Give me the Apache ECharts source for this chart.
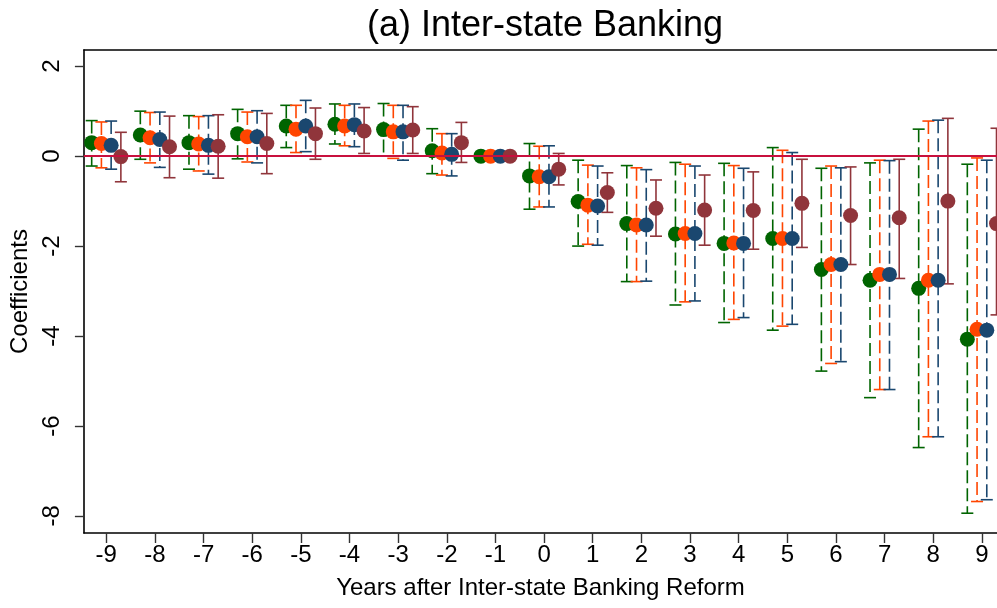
<!DOCTYPE html>
<html>
<head>
<meta charset="utf-8">
<script src="https://cdn.jsdelivr.net/npm/echarts@6/dist/echarts.min.js"></script>
<style>
  html, body { margin: 0; padding: 0; background: #fff; }
  #chart { width: 997px; height: 608px; }
</style>
</head>
<body>
<div id="chart"></div>
<script>
const years = [-9, -8, -7, -6, -5, -4, -3, -2, -1, 0, 1, 2, 3, 4, 5, 6, 7, 8, 9];
const yTicks = [-8, -6, -4, -2, 0, 2];

// point estimates and 95% bounds (null = reference year, no interval)
const greenCoef = [0.30, 0.47, 0.30, 0.50, 0.67, 0.71, 0.59, 0.12, 0, -0.44, -1.01, -1.50, -1.73, -1.94, -1.83, -2.52, -2.76, -2.94, -4.07];
const greenHi = [0.79, 1.00, 0.90, 1.04, 1.13, 1.16, 1.17, 0.61, null, 0.28, -0.09, -0.21, -0.14, -0.16, 0.19, -0.27, -0.15, 0.60, -0.18];
const greenLo = [-0.22, -0.07, -0.29, -0.06, 0.19, 0.27, 0.00, -0.39, null, -1.18, -2.00, -2.79, -3.31, -3.70, -3.87, -4.78, -5.37, -6.48, -7.94];

const orangeCoef = [0.28, 0.41, 0.27, 0.43, 0.60, 0.67, 0.54, 0.07, 0, -0.46, -1.09, -1.53, -1.72, -1.93, -1.83, -2.41, -2.63, -2.76, -3.85];
const orangeHi = [0.76, 0.97, 0.88, 0.98, 1.13, 1.13, 1.13, 0.50, null, 0.22, -0.20, -0.26, -0.18, -0.21, 0.13, -0.22, -0.09, 0.78, -0.04];
const orangeLo = [-0.26, -0.15, -0.33, -0.13, 0.08, 0.23, -0.05, -0.42, null, -1.13, -1.96, -2.79, -3.24, -3.63, -3.78, -4.61, -5.19, -6.24, -7.68];

const blueCoef = [0.24, 0.37, 0.24, 0.43, 0.67, 0.70, 0.54, 0.04, 0, -0.46, -1.11, -1.53, -1.72, -1.94, -1.83, -2.41, -2.63, -2.76, -3.87];
const blueHi = [0.78, 0.98, 0.90, 1.01, 1.24, 1.16, 1.13, 0.50, null, 0.23, -0.22, -0.30, -0.22, -0.27, 0.08, -0.26, -0.10, 0.80, -0.09];
const blueLo = [-0.29, -0.25, -0.40, -0.15, 0.10, 0.21, -0.09, -0.44, null, -1.13, -1.98, -2.78, -3.22, -3.59, -3.74, -4.57, -5.19, -6.24, -7.64];

const maroonCoef = [-0.01, 0.21, 0.22, 0.28, 0.50, 0.56, 0.58, 0.30, 0, -0.29, -0.81, -1.16, -1.20, -1.21, -1.05, -1.32, -1.37, -1.00, -1.50];
const maroonHi = [0.53, 0.89, 0.92, 0.95, 1.07, 1.08, 1.10, 0.75, null, 0.06, -0.37, -0.53, -0.42, -0.35, -0.07, -0.24, -0.07, 0.84, 0.62];
const maroonLo = [-0.57, -0.48, -0.49, -0.39, -0.07, 0.06, 0.06, -0.14, null, -0.64, -1.25, -1.78, -1.98, -2.07, -2.03, -2.41, -2.72, -2.84, -3.53];

const FONT = 'Liberation Sans, Arial, Helvetica, sans-serif';

const groups = [
  { coef: greenCoef, lo: greenLo, hi: greenHi, color: '#006400', off: -0.3, dash: [13, 5] },
  { coef: orangeCoef, lo: orangeLo, hi: orangeHi, color: '#ff4500', off: -0.1, dash: [13, 5] },
  { coef: blueCoef, lo: blueLo, hi: blueHi, color: '#1a476f', off: 0.1, dash: [13, 5] },
  { coef: maroonCoef, lo: maroonLo, hi: maroonHi, color: '#90353b', off: 0.3, dash: null }
];

function makeBarRenderer(color, dash) {
  return function (params, api) {
    const x = api.value(0);
    const top = api.coord([x, api.value(2)]);
    const bot = api.coord([x, api.value(1)]);
    const hw = 6;
    const style = { stroke: color, lineWidth: 1.6, fill: null };
    return {
      type: 'group',
      children: [
        { type: 'line', shape: { x1: top[0], y1: top[1], x2: bot[0], y2: bot[1] },
          style: Object.assign({}, style, dash ? { lineDash: dash } : {}) },
        { type: 'line', shape: { x1: top[0] - hw, y1: top[1], x2: top[0] + hw, y2: top[1] }, style: style },
        { type: 'line', shape: { x1: bot[0] - hw, y1: bot[1], x2: bot[0] + hw, y2: bot[1] }, style: style }
      ]
    };
  };
}

const series = [];

// zero reference line
series.push({
  type: 'line',
  data: [],
  z: 1,
  markLine: {
    silent: true,
    symbol: 'none',
    label: { show: false },
    lineStyle: { color: '#c8103e', width: 2, type: 'solid' },
    data: [{ yAxis: 0 }]
  }
});

groups.forEach(g => {
  const bars = [];
  years.forEach((yr, i) => {
    if (g.lo[i] !== null) bars.push([yr + g.off, g.lo[i], g.hi[i]]);
  });
  series.push({
    type: 'custom',
    z: 2,
    renderItem: makeBarRenderer(g.color, g.dash),
    data: bars,
    encode: { x: 0, y: [1, 2] }
  });
});

groups.forEach(g => {
  series.push({
    type: 'scatter',
    z: 3,
    symbol: 'circle',
    symbolSize: 15,
    itemStyle: { color: g.color, opacity: 1 },
    data: years.map((yr, i) => [yr + g.off, g.coef[i]])
  });
});

const chart = echarts.init(document.getElementById('chart'));
chart.setOption({
  animation: false,
  backgroundColor: '#fff',
  title: {
    text: '(a) Inter-state Banking',
    left: 540,
    top: 3,
    textAlign: 'center',
    textStyle: { fontFamily: FONT, fontSize: 36, fontWeight: 'normal', color: '#000' }
  },
  grid: { left: 83, right: 0, top: 50, bottom: 75 },
  xAxis: [{
    type: 'value',
    min: -9.46,
    max: 9.31,
    name: 'Years after Inter-state Banking Reform',
    nameLocation: 'middle',
    nameGap: 43,
    nameTextStyle: { fontFamily: FONT, fontSize: 24, color: '#000' },
    axisLine: { show: true, onZero: false, lineStyle: { color: '#000', width: 1.6 } },
    axisTick: { show: true, length: 10, customValues: years, lineStyle: { color: '#333', width: 1.4 } },
    axisLabel: { fontFamily: FONT, fontSize: 24, color: '#000', margin: 10, customValues: years },
    splitLine: { show: false }
  }, {
    type: 'value',
    position: 'top',
    min: -9.46,
    max: 9.31,
    axisLine: { show: true, onZero: false, lineStyle: { color: '#000', width: 1.6 } },
    axisTick: { show: false },
    axisLabel: { show: false },
    splitLine: { show: false }
  }],
  yAxis: {
    type: 'value',
    min: -8.38,
    max: 2.36,
    name: 'Coefficients',
    nameLocation: 'middle',
    nameGap: 47,
    nameRotate: 90,
    nameTextStyle: { fontFamily: FONT, fontSize: 24, color: '#000' },
    axisLine: { show: true, onZero: false, lineStyle: { color: '#000', width: 1.6 } },
    axisTick: { show: true, length: 9, customValues: yTicks, lineStyle: { color: '#333', width: 1.4 } },
    axisLabel: { fontFamily: FONT, fontSize: 24, color: '#000', rotate: 90, margin: 20, customValues: yTicks },
    splitLine: { show: false }
  },
  series: series
});
</script>
</body>
</html>
